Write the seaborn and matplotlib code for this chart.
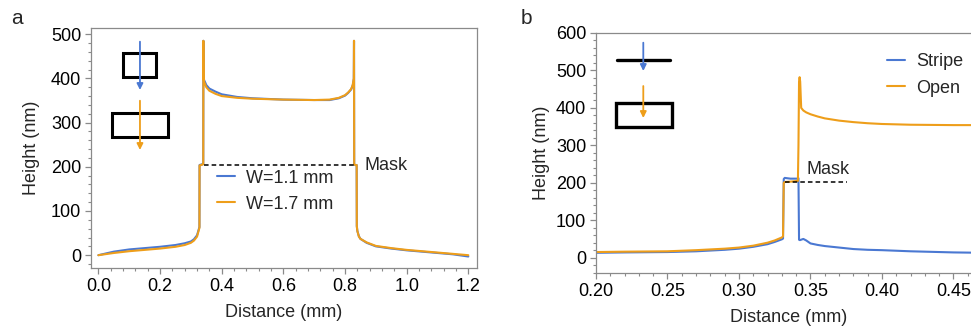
import numpy as np
import pandas as pd
import matplotlib
matplotlib.use("Agg")
import matplotlib.pyplot as plt
from matplotlib.patches import Rectangle
from matplotlib.ticker import AutoMinorLocator, MultipleLocator
import seaborn as sns

# ---------------- data ----------------
# Panel a: profiles across the mask opening
xa = [0.00, 0.05, 0.10, 0.15, 0.20, 0.25, 0.28, 0.30, 0.31, 0.32, 0.325, 0.3278,
      0.3282, 0.333, 0.338, 0.3402, 0.3406, 0.3412, 0.343, 0.347, 0.35, 0.36, 0.38,
      0.40, 0.45, 0.50, 0.60, 0.70, 0.75, 0.78, 0.80, 0.81, 0.82, 0.825, 0.8285,
      0.8292, 0.8298, 0.834, 0.8378, 0.8383, 0.84, 0.845, 0.85, 0.87, 0.90, 0.95,
      1.00, 1.05, 1.10, 1.15, 1.20]
ya_w17 = [0, 5, 9, 12, 15, 19, 23, 28, 33, 42, 55, 62,
          203, 204, 205, 206, 485, 400, 392, 385, 380, 372, 365,
          360, 356, 354, 352, 351, 352, 356, 362, 368, 376, 385, 400,
          485, 205, 204, 204, 65, 55, 42, 37, 29, 21, 16,
          12, 9, 6, 3, 0]
ya_w11 = [0, 8, 13, 16, 19, 23, 27, 31, 36, 45, 57, 64,
          204, 205, 206, 207, 485, 402, 396, 390, 385, 377, 370,
          364, 358, 355, 352, 351, 351, 355, 361, 367, 375, 384, 399,
          485, 205, 204, 204, 66, 55, 43, 37, 28, 20, 15,
          11, 8, 5, 2, -3]

# Panel b: stripe mask vs open mask
xb = [0.20, 0.22, 0.25, 0.27, 0.29, 0.30, 0.31, 0.32, 0.325, 0.33, 0.3308,
      0.3313, 0.332, 0.336, 0.3412, 0.3416, 0.3420, 0.3424, 0.3428, 0.3435,
      0.345, 0.347, 0.35, 0.355, 0.36, 0.37, 0.38, 0.39, 0.40, 0.42, 0.45, 0.47]
yb_stripe = [13, 14, 15, 17, 21, 24, 29, 36, 42, 49, 51,
             210, 213, 211, 211, 212, 48, 47, 47, 48,
             50, 46, 38, 34, 31, 27, 23, 21, 20, 17, 14, 13]
yb_open = [15, 16, 17, 20, 24, 27, 32, 40, 46, 54, 57,
           200, 202, 203, 205, 300, 470, 482, 470, 400,
           393, 388, 383, 377, 372, 366, 362, 359, 357, 355, 354, 354]

labels_a = ["W=1.1 mm", "W=1.7 mm"]
labels_b = ["Stripe", "Open"]
mask_level = 203

# ---------------- style ----------------
sns.set_style("ticks")
plt.rcParams["font.family"] = ["Liberation Sans", "DejaVu Sans"]
plt.rcParams["font.size"] = 13

BLUE = "#4A78D2"
ORANGE = "#EE9E1A"
GRAY = "#8a8a8a"

df_a = pd.concat([
    pd.DataFrame({"x": xa, "y": ya_w11, "s": labels_a[0]}),
    pd.DataFrame({"x": xa, "y": ya_w17, "s": labels_a[1]}),
])
df_b = pd.concat([
    pd.DataFrame({"x": xb, "y": yb_stripe, "s": labels_b[0]}),
    pd.DataFrame({"x": xb, "y": yb_open, "s": labels_b[1]}),
])

fig = plt.figure(figsize=(9.71, 3.27), dpi=100)
ax1 = fig.add_axes([0.0937, 0.1804, 0.3975, 0.734])
ax2 = fig.add_axes([0.6138, 0.1651, 0.3976, 0.734])


def style_axes(ax):
    for s in ax.spines.values():
        s.set_color(GRAY)
        s.set_linewidth(0.9)
    ax.tick_params(which="both", direction="out", color=GRAY, labelcolor="black",
                   labelsize=13)
    ax.tick_params(which="major", length=4.5, width=0.9, pad=2.5)
    ax.tick_params(which="minor", length=2.5, width=0.8)
    ax.xaxis.set_minor_locator(AutoMinorLocator(5))
    ax.yaxis.set_minor_locator(AutoMinorLocator(5))


# ---- panel a ----
sns.lineplot(data=df_a, x="x", y="y", hue="s", palette=[BLUE, ORANGE],
             ax=ax1, lw=1.5, sort=False, estimator=None)
ax1.set_xlim(-0.024, 1.228)
ax1.set_ylim(-29, 514)
ax1.xaxis.set_major_locator(MultipleLocator(0.2))
ax1.yaxis.set_major_locator(MultipleLocator(100))
ax1.xaxis.set_major_formatter(matplotlib.ticker.FormatStrFormatter("%.1f"))
style_axes(ax1)
ax1.set_xlabel("Distance (mm)", fontsize=13, labelpad=7)
ax1.set_ylabel("Height (nm)", fontsize=13, labelpad=8)
ax1.plot([0.342, 0.829], [mask_level, mask_level], ls=(0, (3, 2)), color="black", lw=1.1)
ax1.text(0.862, mask_level, "Mask", va="center", ha="left", fontsize=13)
h, l = ax1.get_legend_handles_labels()
ax1.legend(h, labels_a, frameon=False, loc="upper left", bbox_to_anchor=(0.326, 0.41),
           borderpad=0, borderaxespad=0, handlelength=1.0, handletextpad=0.6,
           labelspacing=0.5, fontsize=13)

# schematic a
ax1.add_patch(Rectangle((0.0821, 0.7946), 0.0855, 0.1024, transform=ax1.transAxes,
                        fill=False, ec="black", lw=2.2))
ax1.add_patch(Rectangle((0.0552, 0.547), 0.1435, 0.100, transform=ax1.transAxes,
                        fill=False, ec="black", lw=2.2))
ax1.annotate("", xy=(0.1269, 0.7417), xytext=(0.1269, 0.943), xycoords="axes fraction",
             arrowprops=dict(arrowstyle="-|>", color=BLUE, lw=1.3, mutation_scale=9,
                             shrinkA=0, shrinkB=0))
ax1.annotate("", xy=(0.1269, 0.4917), xytext=(0.1269, 0.697), xycoords="axes fraction",
             arrowprops=dict(arrowstyle="-|>", color=ORANGE, lw=1.3, mutation_scale=9,
                             shrinkA=0, shrinkB=0))

# ---- panel b ----
sns.lineplot(data=df_b, x="x", y="y", hue="s", palette=[BLUE, ORANGE],
             ax=ax2, lw=1.5, sort=False, estimator=None)
ax2.set_xlim(0.20, 0.47)
ax2.set_ylim(-41, 600)
ax2.xaxis.set_major_locator(MultipleLocator(0.05))
ax2.yaxis.set_major_locator(MultipleLocator(100))
ax2.xaxis.set_major_formatter(matplotlib.ticker.FormatStrFormatter("%.2f"))
style_axes(ax2)
ax2.set_xlabel("Distance (mm)", fontsize=13, labelpad=7)
ax2.set_ylabel("Height (nm)", fontsize=13, labelpad=4)
ax2.plot([0.332, 0.3757], [mask_level, mask_level], ls=(0, (3, 2)), color="black", lw=1.1)
ax2.text(0.3473, 235, "Mask", va="center", ha="left", fontsize=13)
h, l = ax2.get_legend_handles_labels()
ax2.legend(h, labels_b, frameon=False, loc="upper left", bbox_to_anchor=(0.754, 0.9146),
           borderpad=0, borderaxespad=0, handlelength=1.0, handletextpad=0.6,
           labelspacing=0.5, fontsize=13)

# schematic b
ax2.plot([0.0536, 0.1917], [0.8875, 0.8875], transform=ax2.transAxes, color="black", lw=2.4)
ax2.add_patch(Rectangle((0.0518, 0.6096), 0.1443, 0.0975, transform=ax2.transAxes,
                        fill=False, ec="black", lw=2.4))
ax2.annotate("", xy=(0.1225, 0.8417), xytext=(0.1225, 0.9596), xycoords="axes fraction",
             arrowprops=dict(arrowstyle="-|>", color=BLUE, lw=1.3, mutation_scale=9,
                             shrinkA=0, shrinkB=0))
ax2.annotate("", xy=(0.1225, 0.6458), xytext=(0.1225, 0.779), xycoords="axes fraction",
             arrowprops=dict(arrowstyle="-|>", color=ORANGE, lw=1.3, mutation_scale=9,
                             shrinkA=0, shrinkB=0))

fig.text(0.0175, 0.942, "a", fontsize=15, ha="center", va="center")
fig.text(0.5424, 0.942, "b", fontsize=15, ha="center", va="center")

fig.savefig("out.png", dpi=100)
